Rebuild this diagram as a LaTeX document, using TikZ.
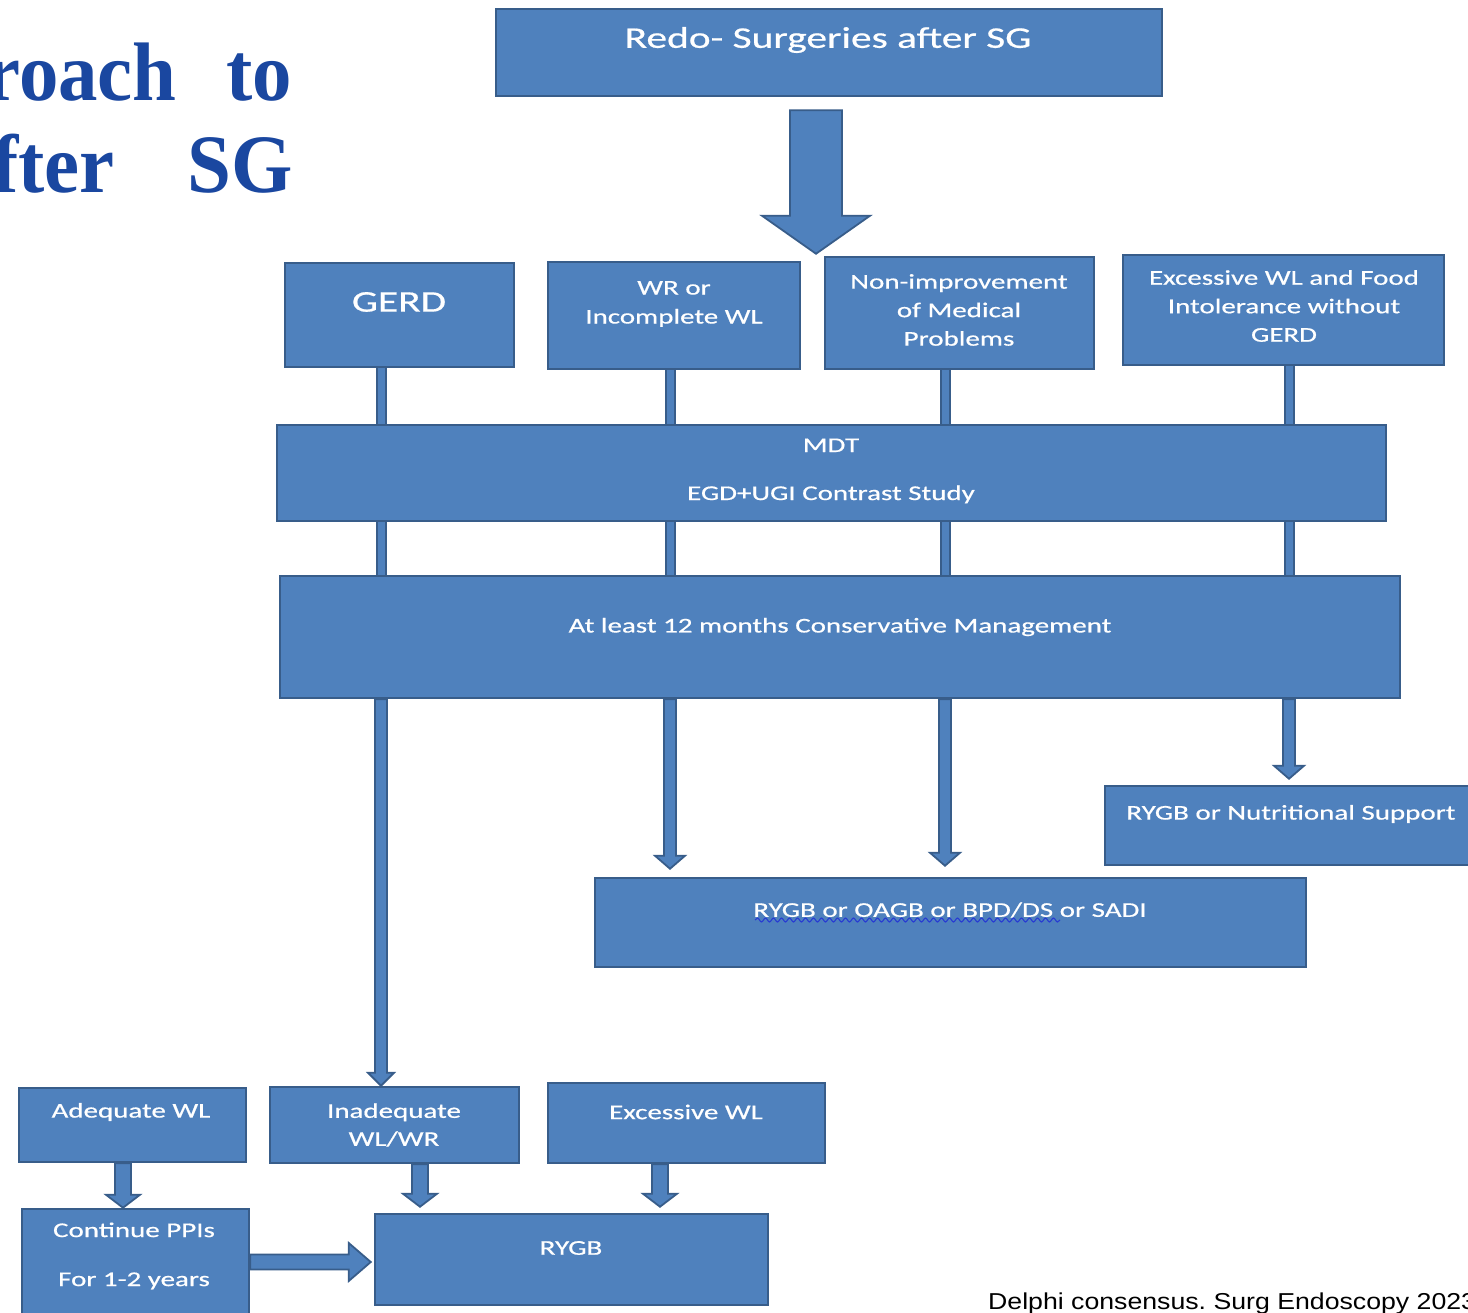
\documentclass[tikz,border=0pt]{standalone}
\usepackage{fontspec}
\setmainfont{Carlito}
\newfontfamily\boxfont{Carlito}[FakeStretch=1.38,FakeBold=0.6]
\newfontfamily\titlefont{Liberation Serif}[FakeStretch=0.95]
\newfontfamily\capfont{Liberation Sans}[FakeStretch=1.16]
\usetikzlibrary{calc,decorations.pathmorphing}
\definecolor{bfill}{RGB}{79,129,189}
\definecolor{bedge}{RGB}{56,93,138}
\definecolor{ttl}{RGB}{26,71,160}
\definecolor{sq}{RGB}{40,60,210}
\frenchspacing
\tikzset{
 bx/.style={draw=bedge, fill=bfill, line width=2.5pt, inner sep=0pt, rectangle},
 tx/.style={text=white, inner sep=0pt, align=center, font=\boxfont\fontsize{21}{29}\selectfont},
 conn/.style={draw=bedge, line width=2pt, double=bfill, double distance=7pt},
 arr/.style={draw=bedge, fill=bfill, line width=1.8pt, line join=miter},
 ttlstyle/.style={text=ttl, inner sep=0pt, font=\titlefont\bfseries\fontsize{83}{83}\selectfont},
 squig/.style={draw=sq, line width=1.1pt, decorate, decoration={snake, segment length=8pt, amplitude=2pt}},
}
% box: name, x1, y1, x2, y2
\newcommand\bx[5]{\node[bx, minimum width={(#4-#2)*1pt}, minimum height={(#5-#3)*1pt}] (#1) at ({(#2+#4)/2},{(#3+#5)/2}) {};}
% vertical block arrow: start, tip, shaft width, head width, head length
\newcommand\vArrow[5]{\draw[arr] let \p1=(#1), \p2=(#2) in
  ({\x1-#3pt/2},\y1) -- ({\x1-#3pt/2},{\y2+#5pt}) -- ({\x1-#4pt/2},{\y2+#5pt}) -- (\x1,\y2)
  -- ({\x1+#4pt/2},{\y2+#5pt}) -- ({\x1+#3pt/2},{\y2+#5pt}) -- ({\x1+#3pt/2},\y1) -- cycle;}
% horizontal block arrow (to the right)
\newcommand\hArrow[5]{\draw[arr] let \p1=(#1), \p2=(#2) in
  (\x1,{\y1+#3pt/2}) -- ({\x2-#5pt},{\y1+#3pt/2}) -- ({\x2-#5pt},{\y1+#4pt/2}) -- (\x2,\y1)
  -- ({\x2-#5pt},{\y1-#4pt/2}) -- ({\x2-#5pt},{\y1-#3pt/2}) -- (\x1,{\y1-#3pt/2}) -- cycle;}
\begin{document}
\begin{tikzpicture}[x=1pt,y=-1pt]
\useasboundingbox (0,0) rectangle (1468,1313);
\fill[white] (0,0) rectangle (1468,1313);
\clip (0,0) rectangle (1468,1313);

% title fragment
\node[ttlstyle, anchor=base east] (ti1) at (177,101) {roach};
\node[ttlstyle, anchor=base east] (ti2) at (292,101) {to};
\node[ttlstyle, anchor=base east] (ti3) at (115,193) {fter};
\node[ttlstyle, anchor=base east] (ti4) at (293,193) {SG};

% boxes
\bx{top}{496}{9}{1162}{96}
\bx{gerd}{285}{263}{514}{367}
\bx{wr}{548}{262}{800}{369}
\bx{nonimp}{825}{257}{1094}{369}
\bx{exc}{1123}{255}{1444}{365}
\bx{mdt}{277}{425}{1386}{521}
\bx{cons}{280}{576}{1400}{698}
\bx{nutr}{1105}{786}{1480}{865}
\bx{oagb}{595}{878}{1306}{967}
\bx{adeq}{19}{1088}{246}{1162}
\bx{inad}{270}{1087}{519}{1163}
\bx{excwl}{548}{1083}{825}{1163}
\bx{cont}{22}{1209}{249}{1330}
\bx{rygb}{375}{1214}{768}{1305}

% connectors
\draw[conn] (381,0 |- gerd.south) -- (381,0 |- mdt.north);
\draw[conn] (670,0 |- wr.south) -- (670,0 |- mdt.north);
\draw[conn] (945,0 |- nonimp.south) -- (945,0 |- mdt.north);
\draw[conn] (1289,0 |- exc.south) -- (1289,0 |- mdt.north);
\draw[conn] (381,0 |- mdt.south) -- (381,0 |- cons.north);
\draw[conn] (670,0 |- mdt.south) -- (670,0 |- cons.north);
\draw[conn] (945,0 |- mdt.south) -- (945,0 |- cons.north);
\draw[conn] (1289,0 |- mdt.south) -- (1289,0 |- cons.north);

% arrows
\vArrow{$(816,0 |- top.south)+(0,13)$}{$(816,0 |- nonimp.north)+(0,-2)$}{52}{108}{38}
\vArrow{381,0 |- cons.south}{381,0 |- inad.north}{12}{26}{13}
\vArrow{670,0 |- cons.south}{$(670,0 |- oagb.north)+(0,-8)$}{12}{30}{13}
\vArrow{945,0 |- cons.south}{$(945,0 |- oagb.north)+(0,-11)$}{12}{30}{13}
\vArrow{1289,0 |- cons.south}{$(1289,0 |- nutr.north)+(0,-6)$}{12}{30}{13}
\vArrow{123,0 |- adeq.south}{123,0 |- cont.north}{16}{34}{13}
\vArrow{420,0 |- inad.south}{$(420,0 |- rygb.north)+(0,-6)$}{16}{34}{13}
\vArrow{660,0 |- excwl.south}{$(660,0 |- rygb.north)+(0,-6)$}{16}{34}{13}
\hArrow{cont.east |- 0,1262}{$(rygb.west |- 0,1262)+(-3,0)$}{15}{38}{22}

% texts
\node[tx, font=\boxfont\fontsize{30}{36}\selectfont] (ttop) at (828,40) {Redo- Surgeries after SG};
\node[tx, font=\boxfont\fontsize{30}{36}\selectfont] (tgerd) at (399,302) {GERD};
\node[tx] (twr) at (674,304) {WR or\\Incomplete WL};
\node[tx, font=\boxfont\fontsize{21}{28.5}\selectfont] (tnon) at (959,310) {Non-improvement\\of Medical\\Problems};
\node[tx, font=\boxfont\fontsize{21}{28.5}\selectfont] (texc) at (1284,306) {Excessive WL and Food\\Intolerance without\\GERD};
\node[tx, font=\boxfont\fontsize{21}{48}\selectfont] (tmdt) at (831,471) {MDT\\EGD+UGI Contrast Study};
\node[tx] (tcons) at (840,627) {At least 12 months Conservative Management};
\node[tx] (tnutr) at (1291,814) {RYGB or Nutritional Support};
\node[tx] (toagb) at (950,910) {RYGB or OAGB or BPD/DS or SADI};
\draw[squig] (755,920) -- (1060,920);
\node[tx] (tadeq) at (131,1112) {Adequate WL};
\node[tx, font=\boxfont\fontsize{21}{28}\selectfont] (tinad) at (394,1125) {Inadequate\\WL/WR};
\node[tx] (texcwl) at (686,1112) {Excessive WL};
\node[tx, font=\boxfont\fontsize{21}{49}\selectfont] (tcont) at (134,1256) {Continue PPIs\\For 1-2 years};
\node[tx] (trygb) at (571,1248) {RYGB};

% caption
\node[anchor=base west, inner sep=0pt, font=\capfont\fontsize{23}{23}\selectfont] (cap) at (988,1309) {Delphi consensus. Surg Endoscopy 2023};
\end{tikzpicture}
\end{document}
